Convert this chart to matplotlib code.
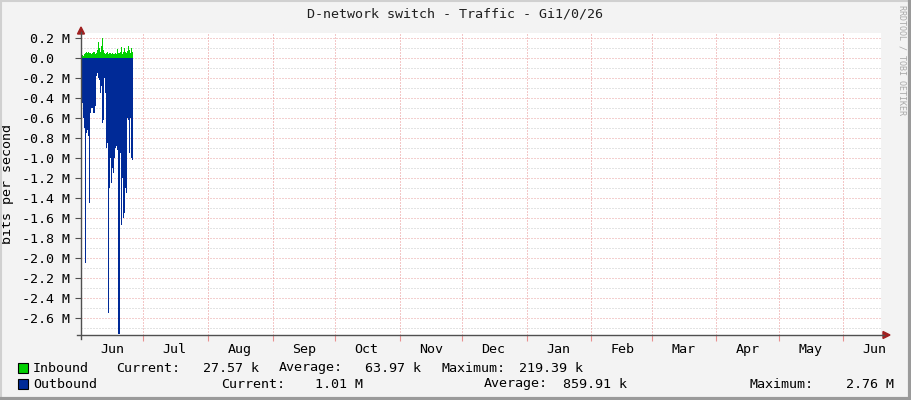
#Importing libraries
import matplotlib
matplotlib.use('Agg')
import matplotlib.pyplot as plt
from matplotlib.patches import Rectangle, Polygon
from matplotlib.lines import Line2D
import pandas as pd

# data (Mbit/s), one value per 12 hours starting 1 Jun 2023 12:00
inbound_m = [0.03, 0.02, 0.04, 0.05, 0.06, 0.05, 0.06, 0.05, 0.05, 0.04,
             0.05, 0.06, 0.04, 0.05, 0.08, 0.16, 0.10, 0.06, 0.12, 0.20,
             0.08, 0.05, 0.04, 0.05, 0.06, 0.04, 0.05, 0.05, 0.04, 0.05,
             0.04, 0.04, 0.05, 0.04, 0.09, 0.05, 0.06, 0.11, 0.04, 0.06,
             0.10, 0.06, 0.05, 0.07, 0.12, 0.08, 0.05, 0.10, 0.06, 0.03]
outbound_m = [0.45, 0.60, 0.70, 2.05, 0.75, 0.72, 0.78, 1.45, 0.55, 0.50,
              0.50, 0.55, 0.48, 0.18, 0.15, 0.20, 0.22, 0.35, 0.28, 0.65,
              0.62, 0.20, 0.35, 0.90, 0.85, 2.55, 1.30, 1.00, 1.25, 1.10,
              1.15, 1.00, 0.90, 0.88, 0.92, 2.76, 0.95, 1.67, 1.20, 1.60,
              1.55, 1.30, 1.35, 0.60, 0.62, 0.95, 0.60, 1.00, 1.02, 1.01]
times = pd.date_range('2023-06-01 12:00', periods=len(inbound_m), freq='12h')

y_ticks = [0.2, 0.0, -0.2, -0.4, -0.6, -0.8, -1.0, -1.2, -1.4, -1.6,
           -1.8, -2.0, -2.2, -2.4, -2.6]
month_labels = ['Jun', 'Jul', 'Aug', 'Sep', 'Oct', 'Nov', 'Dec',
                'Jan', 'Feb', 'Mar', 'Apr', 'May', 'Jun']

legend_rows = [
    ('Inbound', '#00CF00', [('Current:', 116), ('27.57 k', 259, 'r'),
                            ('Average:', 279), ('63.97 k', 421, 'r'),
                            ('Maximum:', 441), ('219.39 k', 583, 'r')]),
    ('Outbound', '#002A97', [('Current:', 221), ('1.01 M', 363, 'r'),
                             ('Average:', 484), ('859.91 k', 627, 'r'),
                             ('Maximum:', 750), ('2.76 M', 894, 'r')]),
]

W, H = 911, 400
FONT = 'DejaVu Sans Mono'
FS = 9.6
DOT = (0, (1, 2))


def px(x, y):
    """pixel (top-left origin) -> figure fraction"""
    return x / W, 1 - y / H


fig = plt.figure(figsize=(W / 100, H / 100), dpi=100, facecolor='#F3F3F3')
left, top, right, bottom = 81, 33, 881, 335
ax = fig.add_axes([left / W, 1 - bottom / H, (right - left) / W, (bottom - top) / H])
ax.set_facecolor('white')

# areas
ax.fill_between(times, 0, inbound_m, step='post', color='#00CF00', lw=0)
ax.fill_between(times, 0, [-v for v in outbound_m], step='post', color='#002A97', lw=0)

ax.set_xlim(pd.Timestamp('2023-06-01'), pd.Timestamp('2024-06-19'))
ax.set_ylim(-2.77, 0.25)

# grid: major every 0.2 M (pink), minor every 0.1 M (grey)
for i in range(-27, 3):
    v = i / 10
    c = '#E8A0A0' if i % 2 == 0 else '#C8C8C8'
    ax.axhline(v, color=c, lw=0.72, ls=DOT, zorder=0.5)
month_starts = pd.date_range('2023-07-01', '2024-06-01', freq='MS')
for m in month_starts:
    ax.axvline(m, color='#E89090', lw=0.72, ls=DOT, zorder=0.5)

# ticks
ax.set_yticks(y_ticks)
ax.set_yticklabels(['0.0  ' if v == 0 else '%.1f M' % v for v in y_ticks],
                   family=FONT, fontsize=FS)
ax.tick_params(axis='y', length=4, color='#505050', pad=4)
ax.set_xticks(month_starts)
ax.set_xticklabels([])
ax.tick_params(axis='x', which='major', length=4, color='#E89090')
mids = pd.date_range('2023-06-01', '2024-06-01', freq='MS') + pd.Timedelta(days=15)
ax.set_xticks(mids, minor=True)
ax.set_xticklabels(month_labels, minor=True, family=FONT, fontsize=FS)
ax.tick_params(axis='x', which='minor', length=0, pad=6)
for s in ax.spines.values():
    s.set_visible(False)

ax.set_ylabel('bits per second', family=FONT, fontsize=FS, labelpad=6)

# axes lines with arrows
fig.add_artist(Line2D(*zip(px(77, 335), px(884, 335)), color='#505050', lw=1))
fig.add_artist(Line2D(*zip(px(81, 339), px(81, 32)), color='#505050', lw=1))
fig.add_artist(Polygon([px(883, 331.5), px(890, 335), px(883, 338.5)],
                       closed=True, color='#A02020', transform=fig.transFigure))
fig.add_artist(Polygon([px(77.5, 34), px(81, 27), px(84.5, 34)],
                       closed=True, color='#A02020', transform=fig.transFigure))

# title and watermark
fig.text(*px(455, 14), 'D-network switch - Traffic - Gi1/0/26', family=FONT,
         fontsize=FS, ha='center', va='center', color='#202020')
fig.text(*px(902, 5), 'RRDTOOL / TOBI OETIKER', family=FONT, fontsize=6,
         rotation=270, ha='center', va='top', color='#A8A8A8')

# legend
for row, (name, color, items) in enumerate(legend_rows):
    y = 368 + row * 16
    fig.add_artist(Rectangle(px(18, y + 5), 10 / W, 10 / H, facecolor=color,
                             edgecolor='black', lw=0.8, transform=fig.transFigure))
    fig.text(*px(33, y), name, family=FONT, fontsize=FS, va='center')
    for it in items:
        ha = 'right' if len(it) == 3 else 'left'
        fig.text(*px(it[1], y), it[0], family=FONT, fontsize=FS, va='center', ha=ha)

# frame
fig.add_artist(Line2D(*zip(px(0, 0.5), px(911, 0.5)), color='#D0D0D0', lw=1.5))
fig.add_artist(Line2D(*zip(px(0.5, 0), px(0.5, 400)), color='#D0D0D0', lw=1.5))
fig.add_artist(Line2D(*zip(px(909.5, 0), px(909.5, 400)), color='#9A9A9A', lw=3))
fig.add_artist(Line2D(*zip(px(0, 398.5), px(911, 398.5)), color='#9A9A9A', lw=3))

fig.savefig('out.png', dpi=100, facecolor=fig.get_facecolor())
